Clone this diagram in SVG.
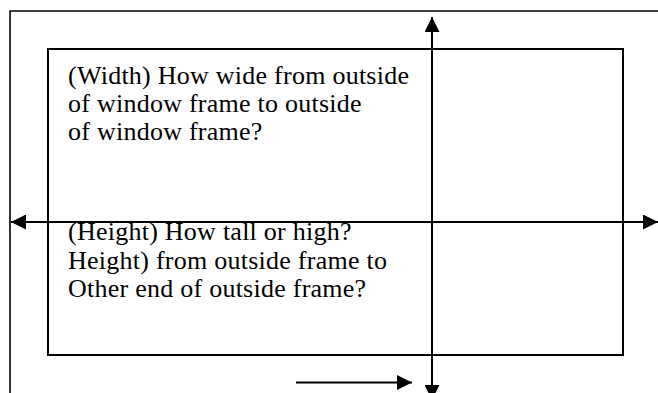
<svg xmlns="http://www.w3.org/2000/svg" width="658" height="393" viewBox="0 0 658 393">
<style>
.ln{stroke:#000;stroke-width:2;fill:none}
.fr{stroke:#000;stroke-width:1.6;fill:none}
.t{font-family:"Liberation Serif","Times New Roman",serif;font-size:26px;letter-spacing:0.25px;fill:#000}
</style>
<defs>
<marker id="ah" viewBox="0 0 15 15" refX="15" refY="7.5" markerWidth="15" markerHeight="15" markerUnits="userSpaceOnUse" orient="auto">
<path d="M0,0 L15,7.5 L0,15 Z" fill="#000"/>
</marker>
</defs>
<rect width="658" height="393" fill="#fff"/>
<g id="outer-frame">
<polyline class="fr" points="10,393 10,11 658,11"/>
</g>
<g id="window">
<rect class="ln" x="48" y="49" width="575" height="306"/>
</g>
<g id="width-label">
<text class="t" x="68" y="84">(Width) How wide from outside</text>
<text class="t" x="68" y="112">of window frame to outside</text>
<text class="t" x="68" y="140">of window frame?</text>
</g>
<g id="height-label">
<text class="t" x="68" y="240">(Height) How tall or high?</text>
<text class="t" x="68" y="269">Height) from outside frame to</text>
<text class="t" x="68" y="297">Other end of outside frame?</text>
</g>
<g id="connectors">
<line class="ln" x1="432" y1="200" x2="432" y2="17" marker-end="url(#ah)"/>
<line class="ln" x1="432" y1="200" x2="432" y2="400" marker-end="url(#ah)"/>
<line class="ln" x1="330" y1="222" x2="11" y2="222" marker-end="url(#ah)"/>
<line class="ln" x1="330" y1="222" x2="658" y2="222" marker-end="url(#ah)"/>
<line class="ln" x1="296" y1="382.5" x2="412" y2="382.5" marker-end="url(#ah)"/>
</g>
</svg>
